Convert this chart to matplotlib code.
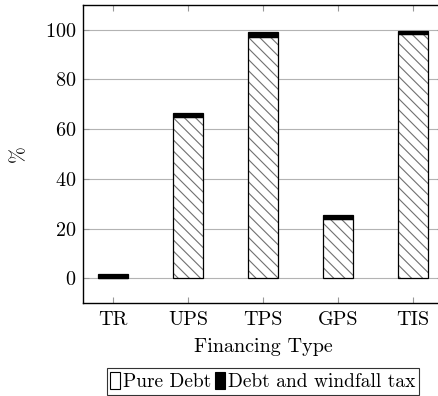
import numpy as np
import matplotlib
matplotlib.use('Agg')
import matplotlib.pyplot as plt
from matplotlib.patches import Patch

plt.rcParams['font.family'] = 'serif'
plt.rcParams['font.serif'] = ['cmr10']
plt.rcParams['mathtext.fontset'] = 'cm'
plt.rcParams['axes.formatter.use_mathtext'] = True
plt.rcParams['font.size'] = 14.5
plt.rcParams['hatch.linewidth'] = 0.8

# data
categories = ['TR', 'UPS', 'TPS', 'GPS', 'TIS']
pure_debt = [0, 65, 97.2, 24, 98.2]
windfall = [1.8, 1.4, 1.8, 1.5, 1.5]

x = np.arange(len(categories))

fig = plt.figure(figsize=(4.38, 3.96), dpi=100)
ax = fig.add_axes([0.1895, 0.2348, 0.8219, 0.7526])

# hatched fill (gray lines), then black outline on top
ax.bar(x, pure_debt, width=0.39, color='white', edgecolor='#707070',
       hatch='\\\\\\', linewidth=0, zorder=3)
ax.bar(x, pure_debt, width=0.39, fill=False, edgecolor='black',
       linewidth=0.9, zorder=4)
ax.bar(x, windfall, width=0.39, bottom=pure_debt, color='black',
       edgecolor='black', linewidth=0.9, zorder=4)

ax.set_xlim(-0.4, 4.4)
ax.set_ylim(-10, 110)
ax.set_xticks(x)
ax.set_xticklabels(categories)
ax.set_yticks([0, 20, 40, 60, 80, 100])
ax.yaxis.grid(True, color='#b3b3b3', linewidth=0.8, zorder=0)
ax.set_axisbelow(True)
ax.tick_params(direction='in', color='#999999', length=4.5, width=0.8,
               top=True, right=True)
ax.tick_params(axis='x', pad=6)
ax.tick_params(axis='y', pad=5)
for s in ax.spines.values():
    s.set_linewidth(1.0)

ax.set_xlabel('Financing Type', labelpad=6)
ax.set_ylabel('%', labelpad=12)

handles = [Patch(facecolor='white', edgecolor='black', linewidth=0.8, label='Pure Debt'),
           Patch(facecolor='black', edgecolor='black', linewidth=0.8, label='Debt and windfall tax')]
leg = fig.legend(handles=handles, loc='lower center', bbox_to_anchor=(0.6, 0.0),
                 ncol=2, frameon=True, fancybox=False, edgecolor='black',
                 handlelength=0.5, handleheight=1.0, handletextpad=0.15,
                 columnspacing=0.2, borderpad=0.2, borderaxespad=0.05,
                 fontsize=14)
leg.get_frame().set_linewidth(0.8)

fig.savefig('out.png', dpi=100)
